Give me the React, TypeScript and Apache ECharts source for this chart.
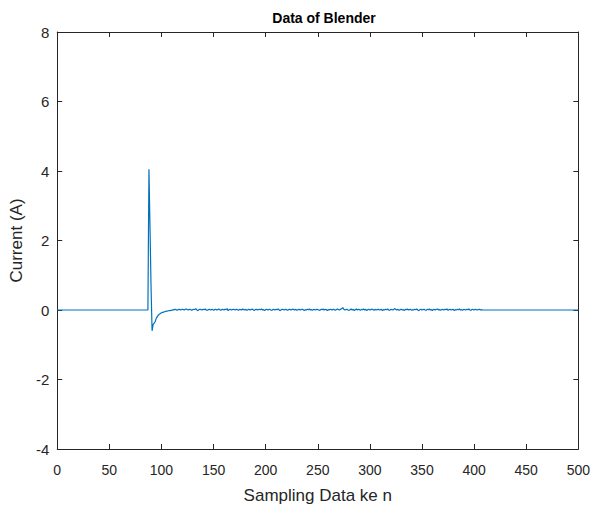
import React, { useEffect, useRef } from "react";
import * as echarts from "echarts";

// Flat segments (sample range, value)
const flatBeforeRange = [0, 87];
const flatAfterRange = [409, 500];
const flatValue = 0;

// Transient after switch-on, samples 88..110
const transientStart = 88;
const transientValues = [
  4.05, 2.4, 0.7, -0.6, -0.42, -0.38, -0.33, -0.24, -0.19, -0.15, -0.12, -0.1,
  -0.08, -0.07, -0.06, -0.05, -0.04, -0.03, -0.03, -0.02, -0.02, -0.01, -0.01,
];

// Steady-state ripple, samples 111..408
const noiseStart = 111;
const noiseValues = [
  0.01, 0.0, 0.02, 0.01, -0.01, 0.01, 0.02, 0.0, 0.01, 0.02, 0.01, 0.0, 0.02, 0.03, 0.01, 0.0, 0.02, 0.01, -0.01, 0.01,
  0.02, 0.01, 0.04, 0.0, -0.02, 0.01, 0.02, 0.01, 0.0, 0.02, 0.01, 0.03, 0.0, -0.01, 0.01, 0.02, 0.0, 0.01, 0.02, -0.01,
  0.01, 0.02, 0.0, 0.01, 0.03, 0.01, -0.01, 0.02, 0.01, 0.0, 0.02, 0.01, 0.04, -0.02, 0.01, 0.02, 0.0, 0.01, 0.02, 0.01,
  0.0, 0.02, 0.01, -0.01, 0.02, 0.01, 0.0, 0.03, 0.01, 0.0, 0.02, -0.01, 0.01, 0.02, 0.0, 0.01, 0.03, 0.01, -0.02, 0.01,
  0.02, 0.0, 0.01, 0.02, 0.01, 0.03, 0.0, 0.01, -0.02, 0.01, 0.02, 0.0, 0.01, 0.02, 0.0, -0.01, 0.02, 0.01, 0.0, 0.02,
  0.01, 0.03, 0.0, -0.02, 0.01, 0.02, 0.01, 0.0, 0.02, 0.01, -0.01, 0.01, 0.02, 0.0, 0.01, 0.03, 0.01, 0.0, 0.02, -0.01,
  0.01, 0.02, 0.0, 0.01, 0.02, 0.01, -0.02, 0.01, 0.0, 0.02, 0.01, 0.03, 0.0, 0.01, -0.01, 0.02, 0.01, 0.0, 0.02, 0.01,
  0.0, -0.01, 0.02, 0.01, 0.03, 0.0, 0.01, 0.02, -0.02, 0.01, 0.0, 0.02, 0.01, 0.0, 0.02, 0.01, -0.01, 0.02, 0.03, 0.01,
  0.0, 0.02, 0.04, 0.07, 0.02, 0.0, 0.01, 0.02, 0.0, -0.01, 0.01, 0.03, 0.0, 0.02, -0.02, 0.01, 0.03, 0.0, 0.02, 0.01,
  -0.01, 0.02, 0.01, 0.03, 0.0, 0.02, -0.02, 0.01, 0.02, 0.0, 0.01, 0.03, 0.01, -0.01, 0.02, 0.0, 0.01, 0.02, 0.0, 0.01,
  0.02, -0.02, 0.01, 0.0, 0.02, 0.01, 0.03, 0.0, -0.01, 0.02, 0.01, 0.0, 0.02, 0.04, 0.01, 0.0, 0.02, -0.01, 0.01, 0.02,
  0.0, 0.01, -0.02, 0.02, 0.01, 0.03, 0.0, 0.01, 0.02, -0.01, 0.01, 0.0, 0.02, 0.01, 0.03, 0.0, -0.02, 0.01, 0.02, 0.0,
  0.01, 0.02, 0.0, -0.01, 0.02, 0.01, 0.03, 0.0, 0.01, -0.02, 0.02, 0.01, 0.0, 0.02, 0.03, 0.0, 0.01, -0.01, 0.02, 0.01,
  0.0, 0.02, 0.01, 0.03, -0.01, 0.01, 0.02, 0.0, 0.01, 0.02, -0.02, 0.01, 0.0, 0.02, 0.01, 0.03, 0.0, 0.01, -0.01, 0.02,
  0.01, 0.0, 0.02, 0.01, 0.03, 0.0, -0.01, 0.02, 0.01, 0.0, 0.02, 0.01, 0.0, 0.01, 0.02, 0.0, 0.01, 0.0,
];

const xMin = 0;
const xMax = 500;
const xStep = 50;
const yMin = -4;
const yMax = 8;
const yStep = 2;

const titleText = "Data of Blender";
const xName = "Sampling Data ke n";
const yName = "Current (A)";

function buildData(): [number, number][] {
  const d: [number, number][] = [];
  d.push([flatBeforeRange[0], flatValue]);
  d.push([flatBeforeRange[1], flatValue]);
  transientValues.forEach((v, i) => d.push([transientStart + i, v]));
  noiseValues.forEach((v, i) => d.push([noiseStart + i, v]));
  d.push([flatAfterRange[0], flatValue]);
  d.push([flatAfterRange[1], flatValue]);
  return d;
}

export default function App() {
  const ref = useRef<HTMLDivElement>(null);
  useEffect(() => {
    if (!ref.current) return;
    const chart = echarts.init(ref.current, null, { renderer: "svg" });
    const axisColor = "#262626";
    const font = "Arial, 'Liberation Sans', sans-serif";
    const baseX = {
      type: "value" as const,
      min: xMin,
      max: xMax,
      interval: xStep,
      splitLine: { show: false },
      axisLine: { show: true, onZero: false, lineStyle: { color: axisColor, width: 1 } },
      axisTick: { show: true, inside: true, length: 5, lineStyle: { color: axisColor } },
    };
    const baseY = {
      type: "value" as const,
      min: yMin,
      max: yMax,
      interval: yStep,
      splitLine: { show: false },
      axisLine: { show: true, onZero: false, lineStyle: { color: axisColor, width: 1 } },
      axisTick: { show: true, inside: true, length: 5, lineStyle: { color: axisColor } },
    };
    chart.setOption({
      animation: false,
      backgroundColor: "#ffffff",
      title: {
        text: titleText,
        left: 319,
        textAlign: "center",
        top: 6,
        textStyle: { fontFamily: font, fontSize: 14, fontWeight: "bold", color: "#000000" },
      },
      grid: { left: 56, right: 11, top: 32, bottom: 60, containLabel: false },
      xAxis: [
        {
          ...baseX,
          position: "bottom",
          name: xName,
          nameLocation: "middle",
          nameGap: 38,
          nameTextStyle: { fontFamily: font, fontSize: 17, color: axisColor },
          axisLabel: { fontFamily: font, fontSize: 14, color: axisColor, margin: 14 },
        },
        { ...baseX, position: "top", axisLabel: { show: false } },
      ],
      yAxis: [
        {
          ...baseY,
          position: "left",
          name: yName,
          nameLocation: "middle",
          nameGap: 32,
          nameTextStyle: { fontFamily: font, fontSize: 17, color: axisColor },
          axisLabel: { fontFamily: font, fontSize: 15, color: axisColor, margin: 8 },
        },
        { ...baseY, position: "right", axisLabel: { show: false } },
      ],
      series: [
        {
          type: "line",
          data: buildData(),
          xAxisIndex: 0,
          yAxisIndex: 0,
          showSymbol: false,
          symbol: "none",
          lineStyle: { color: "#0072BD", width: 1.2 },
        },
      ],
    });
    return () => chart.dispose();
  }, []);
  return <div ref={ref} style={{ width: 593, height: 509, position: "absolute", left: 0, top: 0 }} />;
}
